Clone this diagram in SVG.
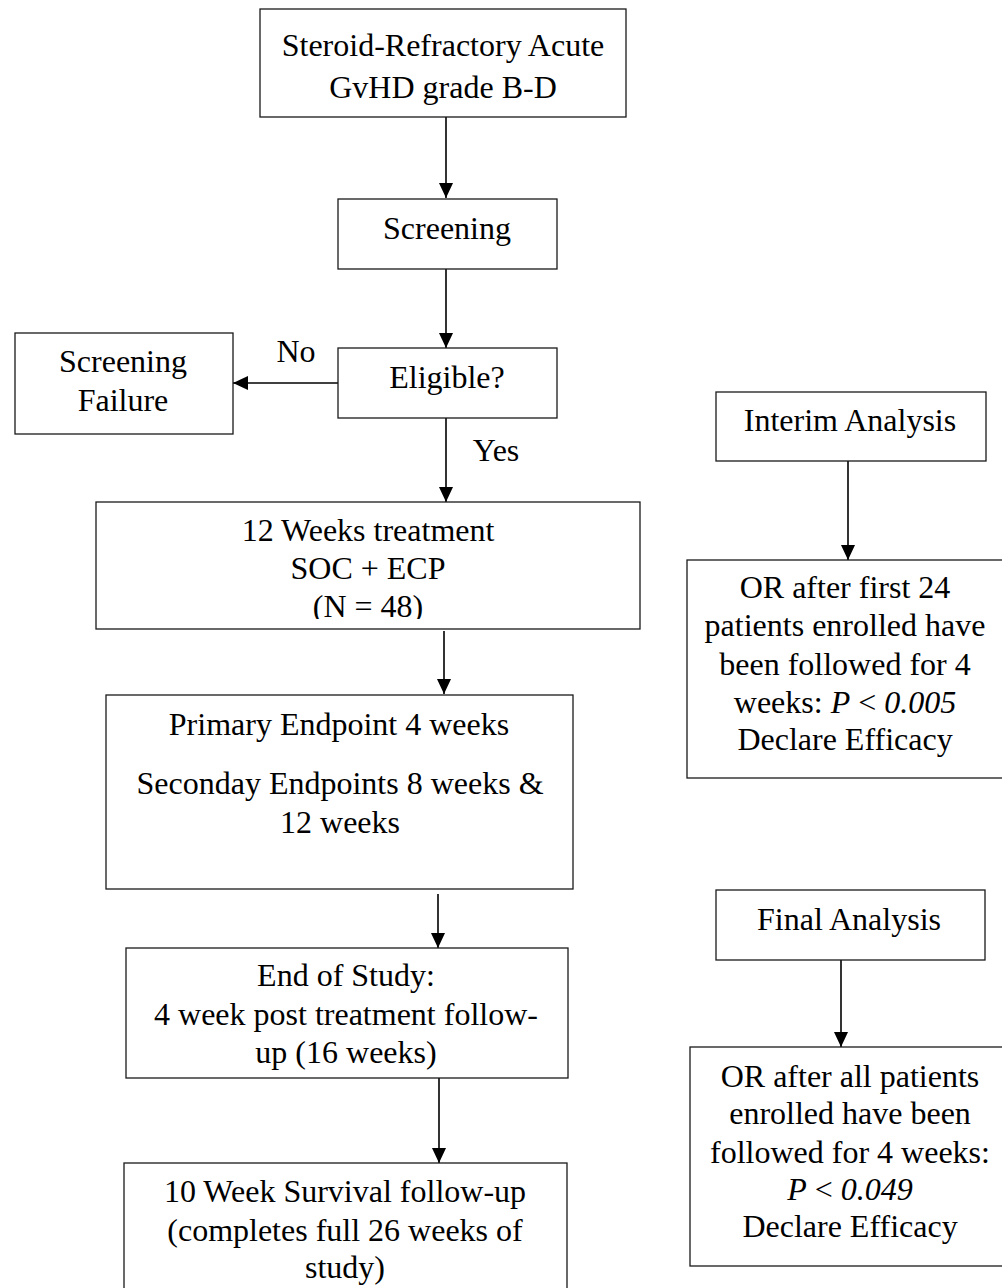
<svg xmlns="http://www.w3.org/2000/svg" width="1002" height="1288" viewBox="0 0 1002 1288">
  <style>
    .box { fill: #ffffff; stroke: #1a1a1a; stroke-width: 1.3; }
    .t { font-family: "Liberation Serif", "Times New Roman", serif; font-size: 32px; fill: #000000; text-anchor: middle; }
    .i { font-style: italic; }
    .conn { stroke: #000000; stroke-width: 1.6; fill: none; marker-end: url(#arrow); }
  </style>
  <defs>
    <marker id="arrow" viewBox="0 0 15 14" refX="15" refY="7" markerWidth="15" markerHeight="14" markerUnits="userSpaceOnUse" orient="auto">
      <path d="M0,0 L15,7 L0,14 Z" fill="#000000"/>
    </marker>
    <clipPath id="clip12">
      <rect x="96" y="502" width="544" height="117"/>
    </clipPath>
  </defs>
  <rect x="0" y="0" width="1002" height="1288" fill="#ffffff"/>

  <g id="connectors">
    <line class="conn" x1="446" y1="117" x2="446" y2="198"/>
    <line class="conn" x1="446" y1="269" x2="446" y2="348"/>
    <line class="conn" x1="338" y1="383" x2="233" y2="383"/>
    <line class="conn" x1="446" y1="418" x2="446" y2="502"/>
    <line class="conn" x1="444" y1="631" x2="444" y2="694"/>
    <line class="conn" x1="438" y1="894" x2="438" y2="948"/>
    <line class="conn" x1="439" y1="1078" x2="439" y2="1163"/>
    <line class="conn" x1="848" y1="461" x2="848" y2="560"/>
    <line class="conn" x1="841" y1="960" x2="841" y2="1047"/>
    <text class="t" x="296" y="362">No</text>
    <text class="t" x="496" y="461">Yes</text>
  </g>

  <g id="node-steroid">
    <rect class="box" x="260" y="9" width="366" height="108"/>
    <text class="t" x="443" y="56">Steroid-Refractory Acute</text>
    <text class="t" x="443" y="98">GvHD grade B-D</text>
  </g>

  <g id="node-screening">
    <rect class="box" x="338" y="199" width="219" height="70"/>
    <text class="t" x="447" y="239">Screening</text>
  </g>

  <g id="node-eligible">
    <rect class="box" x="338" y="348" width="219" height="70"/>
    <text class="t" x="447" y="388">Eligible?</text>
  </g>

  <g id="node-screening-failure">
    <rect class="box" x="15" y="333" width="218" height="101"/>
    <text class="t" x="123" y="372">Screening</text>
    <text class="t" x="123" y="411">Failure</text>
  </g>

  <g id="node-treatment">
    <rect class="box" x="96" y="502" width="544" height="127"/>
    <g clip-path="url(#clip12)">
      <text class="t" x="368" y="541">12 Weeks treatment</text>
      <text class="t" x="368" y="579">SOC + ECP</text>
      <text class="t" x="368" y="617">(N = 48)</text>
    </g>
  </g>

  <g id="node-endpoints">
    <rect class="box" x="106" y="695" width="467" height="194"/>
    <text class="t" x="339" y="735">Primary Endpoint 4 weeks</text>
    <text class="t" x="340" y="794">Seconday Endpoints 8 weeks &amp;</text>
    <text class="t" x="340" y="833">12 weeks</text>
  </g>

  <g id="node-end-of-study">
    <rect class="box" x="126" y="948" width="442" height="130"/>
    <text class="t" x="346" y="986">End of Study:</text>
    <text class="t" x="346" y="1025">4 week post treatment follow-</text>
    <text class="t" x="346" y="1063">up (16 weeks)</text>
  </g>

  <g id="node-survival">
    <rect class="box" x="124" y="1163" width="443" height="140"/>
    <text class="t" x="345" y="1202">10 Week Survival follow-up</text>
    <text class="t" x="345" y="1241">(completes full 26 weeks of</text>
    <text class="t" x="345" y="1278">study)</text>
  </g>

  <g id="node-interim">
    <rect class="box" x="716" y="392" width="270" height="69"/>
    <text class="t" x="850" y="431">Interim Analysis</text>
  </g>

  <g id="node-interim-or">
    <rect class="box" x="687" y="560" width="320" height="218"/>
    <text class="t" x="845" y="598">OR after first 24</text>
    <text class="t" x="845" y="636">patients enrolled have</text>
    <text class="t" x="845" y="675">been followed for 4</text>
    <text class="t" x="845" y="713">weeks: <tspan class="i">P</tspan> &lt; <tspan class="i">0.005</tspan></text>
    <text class="t" x="845" y="750">Declare Efficacy</text>
  </g>

  <g id="node-final">
    <rect class="box" x="716" y="890" width="269" height="70"/>
    <text class="t" x="849" y="930">Final Analysis</text>
  </g>

  <g id="node-final-or">
    <rect class="box" x="690" y="1047" width="320" height="219"/>
    <text class="t" x="850" y="1087">OR after all patients</text>
    <text class="t" x="850" y="1124">enrolled have been</text>
    <text class="t" x="850" y="1163">followed for 4 weeks:</text>
    <text class="t" x="850" y="1200"><tspan class="i">P</tspan> &lt; <tspan class="i">0.049</tspan></text>
    <text class="t" x="850" y="1237">Declare Efficacy</text>
  </g>
</svg>
